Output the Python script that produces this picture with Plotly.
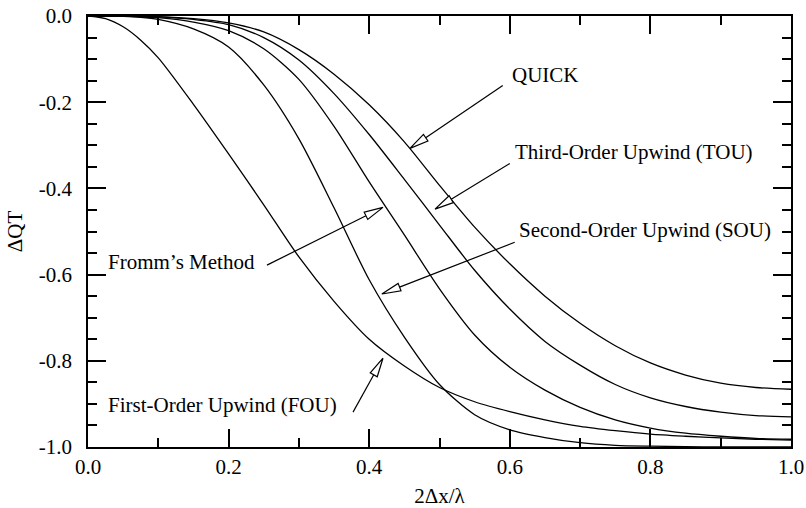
import math
import plotly.graph_objects as go

# Wavenumber axis (2Δx/λ) shared by all schemes
x = [0.0, 0.025, 0.05, 0.075, 0.1, 0.15, 0.2, 0.25, 0.3, 0.35, 0.4, 0.45, 0.5,
     0.55, 0.6, 0.65, 0.7, 0.75, 0.8, 0.85, 0.9, 0.95, 1.0]

# Amplitude error ΔQT for each upwind-type scheme
fou = [0.0, -0.006, -0.025, -0.056, -0.097, -0.205, -0.320, -0.438, -0.559, -0.662, -0.750, -0.812, -0.862,
       -0.895, -0.918, -0.937, -0.952, -0.962, -0.970, -0.975, -0.979, -0.982, -0.984]
sou = [0.0, -0.0002, -0.001, -0.003, -0.008, -0.030, -0.072, -0.160, -0.285, -0.445, -0.612, -0.745, -0.855,
       -0.925, -0.960, -0.978, -0.990, -0.996, -0.998, -0.999, -1.0, -1.0, -1.0]
fromm = [0.0, -0.0001, -0.0005, -0.002, -0.004, -0.014, -0.034, -0.076, -0.147, -0.256, -0.385, -0.508, -0.633,
         -0.740, -0.815, -0.868, -0.908, -0.937, -0.956, -0.968, -0.975, -0.980, -0.982]
tou = [0.0, -0.0001, -0.0003, -0.001, -0.002, -0.008, -0.020, -0.050, -0.102, -0.180, -0.275, -0.379, -0.485,
       -0.590, -0.680, -0.755, -0.810, -0.855, -0.886, -0.906, -0.919, -0.927, -0.930]
quick = [0.0, -0.0001, -0.0002, -0.0008, -0.0015, -0.006, -0.016, -0.037, -0.078, -0.135, -0.206, -0.292, -0.393,
         -0.490, -0.575, -0.650, -0.713, -0.765, -0.805, -0.833, -0.852, -0.862, -0.866]

series = [("First-Order Upwind (FOU)", fou), ("Second-Order Upwind (SOU)", sou),
          ("Fromm's Method", fromm), ("Third-Order Upwind (TOU)", tou), ("QUICK", quick)]

# Tick labels
x_ticks = [0.0, 0.2, 0.4, 0.6, 0.8, 1.0]
x_ticktext = ["0.0", "0.2", "0.4", "0.6", "0.8", "1.0"]
y_ticks = [0.0, -0.2, -0.4, -0.6, -0.8, -1.0]
y_ticktext = ["0.0", "-0.2", "-0.4", "-0.6", "-0.8", "-1.0"]

# Callout labels: text, text anchor (x, y), arrow start, arrow tip
callouts = [
    ("QUICK", (0.600, -0.138), (0.590, -0.161), (0.458, -0.307)),
    ("Third-Order Upwind (TOU)", (0.604, -0.315), (0.600, -0.342), (0.4936, -0.448)),
    ("Second-Order Upwind (SOU)", (0.610, -0.497), (0.607, -0.525), (0.418, -0.645)),
    ("Fromm\u2019s Method", (0.026, -0.570), (0.2546, -0.578), (0.4196, -0.444)),
    ("First-Order Upwind (FOU)", (0.025, -0.903), (0.377, -0.919), (0.4196, -0.794)),
]

W, H = 806, 508
M = dict(l=88, r=15, t=16, b=61)
PW = W - M["l"] - M["r"]
PH = H - M["t"] - M["b"]
FONT = "Liberation Serif"

fig = go.Figure()
for name, ys in series:
    fig.add_trace(go.Scatter(x=x, y=ys, mode="lines", name=name,
                             line=dict(color="black", width=1.3, shape="spline", smoothing=0.8),
                             showlegend=False, hoverinfo="skip"))


def px(pt):
    return pt[0] * PW, -pt[1] * PH


def dat(p):
    return p[0] / PW, -p[1] / PH


shapes = []
annotations = []
HEAD_LEN, HEAD_HALF = 19, 4
for text, anchor, start, tip in callouts:
    sx, sy = px(start)
    tx, ty = px(tip)
    d = math.hypot(tx - sx, ty - sy)
    ux, uy = (tx - sx) / d, (ty - sy) / d
    bx, by = tx - ux * HEAD_LEN, ty - uy * HEAD_LEN
    nx, ny = -uy, ux
    b = dat((bx, by))
    c1 = dat((bx + nx * HEAD_HALF, by + ny * HEAD_HALF))
    c2 = dat((bx - nx * HEAD_HALF, by - ny * HEAD_HALF))
    shapes.append(dict(type="line", xref="x", yref="y", x0=start[0], y0=start[1], x1=b[0], y1=b[1],
                       line=dict(color="black", width=1.2), layer="above"))
    shapes.append(dict(type="path", xref="x", yref="y",
                       path=f"M {tip[0]},{tip[1]} L {c1[0]},{c1[1]} L {c2[0]},{c2[1]} Z",
                       fillcolor="white", line=dict(color="black", width=1.2), layer="above"))
    annotations.append(dict(x=anchor[0], y=anchor[1], xref="x", yref="y", text=text,
                            showarrow=False, xanchor="left", yanchor="middle",
                            font=dict(family=FONT, size=21, color="black")))

axis_common = dict(showgrid=False, zeroline=False, showline=True, linecolor="black", linewidth=1.6,
                   mirror="ticks", ticks="inside", ticklen=18, tickwidth=1.5, tickcolor="black",
                   automargin=False,
                   tickfont=dict(family=FONT, size=21, color="black"))

fig.update_xaxes(range=[0, 1], tickmode="array", tickvals=x_ticks, ticktext=x_ticktext,
                 minor=dict(ticks="inside", ticklen=9, tickwidth=1.5, tickcolor="black",
                            tickmode="linear", tick0=0, dtick=0.1, showgrid=False),
                 title=dict(text="2\u0394x/\u03bb", font=dict(family=FONT, size=21, color="black"),
                            standoff=11),
                 **axis_common)
fig.update_yaxes(range=[-1, 0], tickmode="array", tickvals=y_ticks, ticktext=y_ticktext,
                 minor=dict(ticks="inside", ticklen=9, tickwidth=1.5, tickcolor="black",
                            tickmode="linear", tick0=0, dtick=0.05, showgrid=False),
                 title=dict(text="\u0394QT", font=dict(family=FONT, size=21, color="black"),
                            standoff=10),
                 ticklabelstandoff=10,
                 **axis_common)

fig.update_layout(width=W, height=H, margin=M, plot_bgcolor="white", paper_bgcolor="white",
                  shapes=shapes, annotations=annotations,
                  font=dict(family=FONT, size=21, color="black"))

fig.write_html("out.html")
